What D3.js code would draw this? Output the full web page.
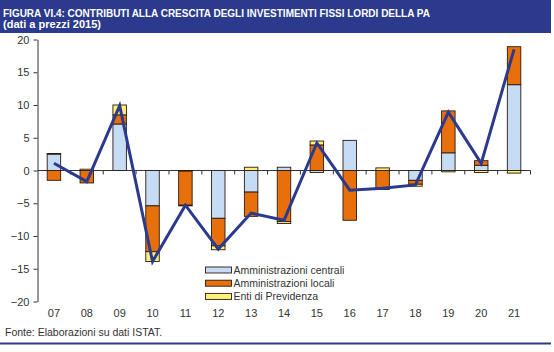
<!DOCTYPE html>
<html>
<head>
<meta charset="utf-8">
<script src="https://cdn.jsdelivr.net/npm/d3@7"></script>
<style>
  body { margin: 0; background: #fff; }
  svg { display: block; font-family: "Liberation Sans", Arial, sans-serif; }
</style>
</head>
<body>
<svg width="554" height="352"></svg>
<script>
const categorie = ['07', '08', '09', '10', '11', '12', '13', '14', '15', '16', '17', '18', '19', '20', '21'];
const centrali = [2.5, 0.0, 7.1, -5.4, -0.1, -7.3, -3.3, 0.5, -0.3, 4.6, 0.0, -1.5, 2.7, 0.8, 13.1];
const locali = [-1.5, -1.9, 1.4, -7.0, -5.2, -4.2, -3.7, -7.8, 3.9, -7.6, -2.9, -0.6, 6.4, 0.7, 5.8];
const enti = [0.1, 0.2, 1.5, -1.5, -0.1, -0.6, 0.5, -0.3, 0.6, 0.0, 0.4, -0.3, -0.2, -0.3, -0.4];
const totale = [1.1, -1.7, 9.9, -13.9, -5.3, -12.0, -6.5, -7.6, 4.2, -3.0, -2.7, -2.2, 8.9, 1.1, 18.5];
const yTicks = [-20, -15, -10, -5, 0, 5, 10, 15, 20];

const serie = ['Amministrazioni centrali', 'Amministrazioni locali', 'Enti di Previdenza'];
const colori = ['#c6dcf5', '#e8700c', '#fdf07a'];
const blu = '#2b3a8c';

const svg = d3.select('svg');

// fascia titolo
svg.append('rect').attr('x', 0).attr('y', 0).attr('width', 551).attr('height', 33).attr('fill', blu);
svg.append('text').attr('x', 3).attr('y', 16.5)
    .attr('fill', '#fff').attr('font-weight', 'bold').attr('font-size', 11.5)
    .attr('textLength', 427).attr('lengthAdjust', 'spacingAndGlyphs')
    .text('FIGURA VI.4: CONTRIBUTI ALLA CRESCITA DEGLI INVESTIMENTI FISSI LORDI DELLA PA');
svg.append('text').attr('x', 3).attr('y', 28)
    .attr('fill', '#fff').attr('font-weight', 'bold').attr('font-size', 11.5)
    .attr('textLength', 98).attr('lengthAdjust', 'spacingAndGlyphs')
    .text('(dati a prezzi 2015)');

const x = d3.scaleBand()
    .domain(categorie)
    .range([37.5, 530.5])
    .paddingInner(0.59)
    .paddingOuter(0.295);

const y = d3.scaleLinear()
    .domain([-20, 20])
    .range([301.5, 39.5]);

const dati = categorie.map((c, i) => ({
    anno: c,
    [serie[0]]: centrali[i],
    [serie[1]]: locali[i],
    [serie[2]]: enti[i]
}));

const stack = d3.stack()
    .keys(serie)
    .offset(d3.stackOffsetDiverging);
const strati = stack(dati);

// asse y
svg.append('g')
    .attr('transform', 'translate(37.5,0)')
    .call(d3.axisLeft(y).tickValues(yTicks).tickSize(4).tickPadding(4).tickSizeOuter(0))
    .call(g => g.selectAll('text').attr('font-size', 11).attr('fill', '#333').attr('font-family', null))
    .call(g => g.selectAll('line, path').attr('stroke', '#333'));

// asse x sullo zero
const step = x.step();
svg.append('line')
    .attr('x1', 37.5).attr('x2', 530.5)
    .attr('y1', y(0)).attr('y2', y(0))
    .attr('stroke', '#333');
svg.append('g').selectAll('line')
    .data(categorie)
    .join('line')
    .attr('x1', d => x(d) + x.bandwidth() / 2 + step / 2)
    .attr('x2', d => x(d) + x.bandwidth() / 2 + step / 2)
    .attr('y1', y(0)).attr('y2', y(0) + 4)
    .attr('stroke', '#333');

// etichette x in basso
svg.append('g')
    .attr('transform', `translate(0,${y(-20)})`)
    .call(d3.axisBottom(x).tickSize(0).tickPadding(8))
    .call(g => g.select('.domain').remove())
    .call(g => g.selectAll('text').attr('font-size', 11).attr('fill', '#333').attr('font-family', null));

// barre
svg.append('g')
    .selectAll('g')
    .data(strati)
    .join('g')
    .attr('fill', (d, i) => colori[i])
    .selectAll('rect')
    .data(d => d)
    .join('rect')
    .attr('x', d => x(d.data.anno))
    .attr('width', x.bandwidth())
    .attr('y', d => y(Math.max(d[0], d[1])))
    .attr('height', d => Math.abs(y(d[0]) - y(d[1])))
    .attr('stroke', '#2a1a10')
    .attr('stroke-width', 0.9);

// linea totale
const linea = d3.line()
    .x((d, i) => x(categorie[i]) + x.bandwidth() / 2)
    .y(d => y(d));
svg.append('path')
    .datum(totale)
    .attr('fill', 'none')
    .attr('stroke', blu)
    .attr('stroke-width', 3)
    .attr('stroke-linejoin', 'miter')
    .attr('d', linea);

// legenda
const legenda = svg.append('g').attr('transform', 'translate(205.5,267)');
serie.forEach((s, i) => {
    const riga = legenda.append('g').attr('transform', `translate(0,${i * 13.2})`);
    riga.append('rect')
        .attr('width', 26).attr('height', 6)
        .attr('fill', colori[i])
        .attr('stroke', '#2a1a10').attr('stroke-width', 0.9);
    riga.append('text')
        .attr('x', 28).attr('y', 7)
        .attr('font-size', 10.5).attr('fill', '#333')
        .text(s);
});

// fonte
svg.append('text').attr('x', 5).attr('y', 336)
    .attr('font-size', 10.5).attr('fill', '#333')
    .text('Fonte: Elaborazioni su dati ISTAT.');
svg.append('line')
    .attr('x1', 0).attr('x2', 551)
    .attr('y1', 343.5).attr('y2', 343.5)
    .attr('stroke', blu).attr('stroke-width', 2);
</script>
</body>
</html>
